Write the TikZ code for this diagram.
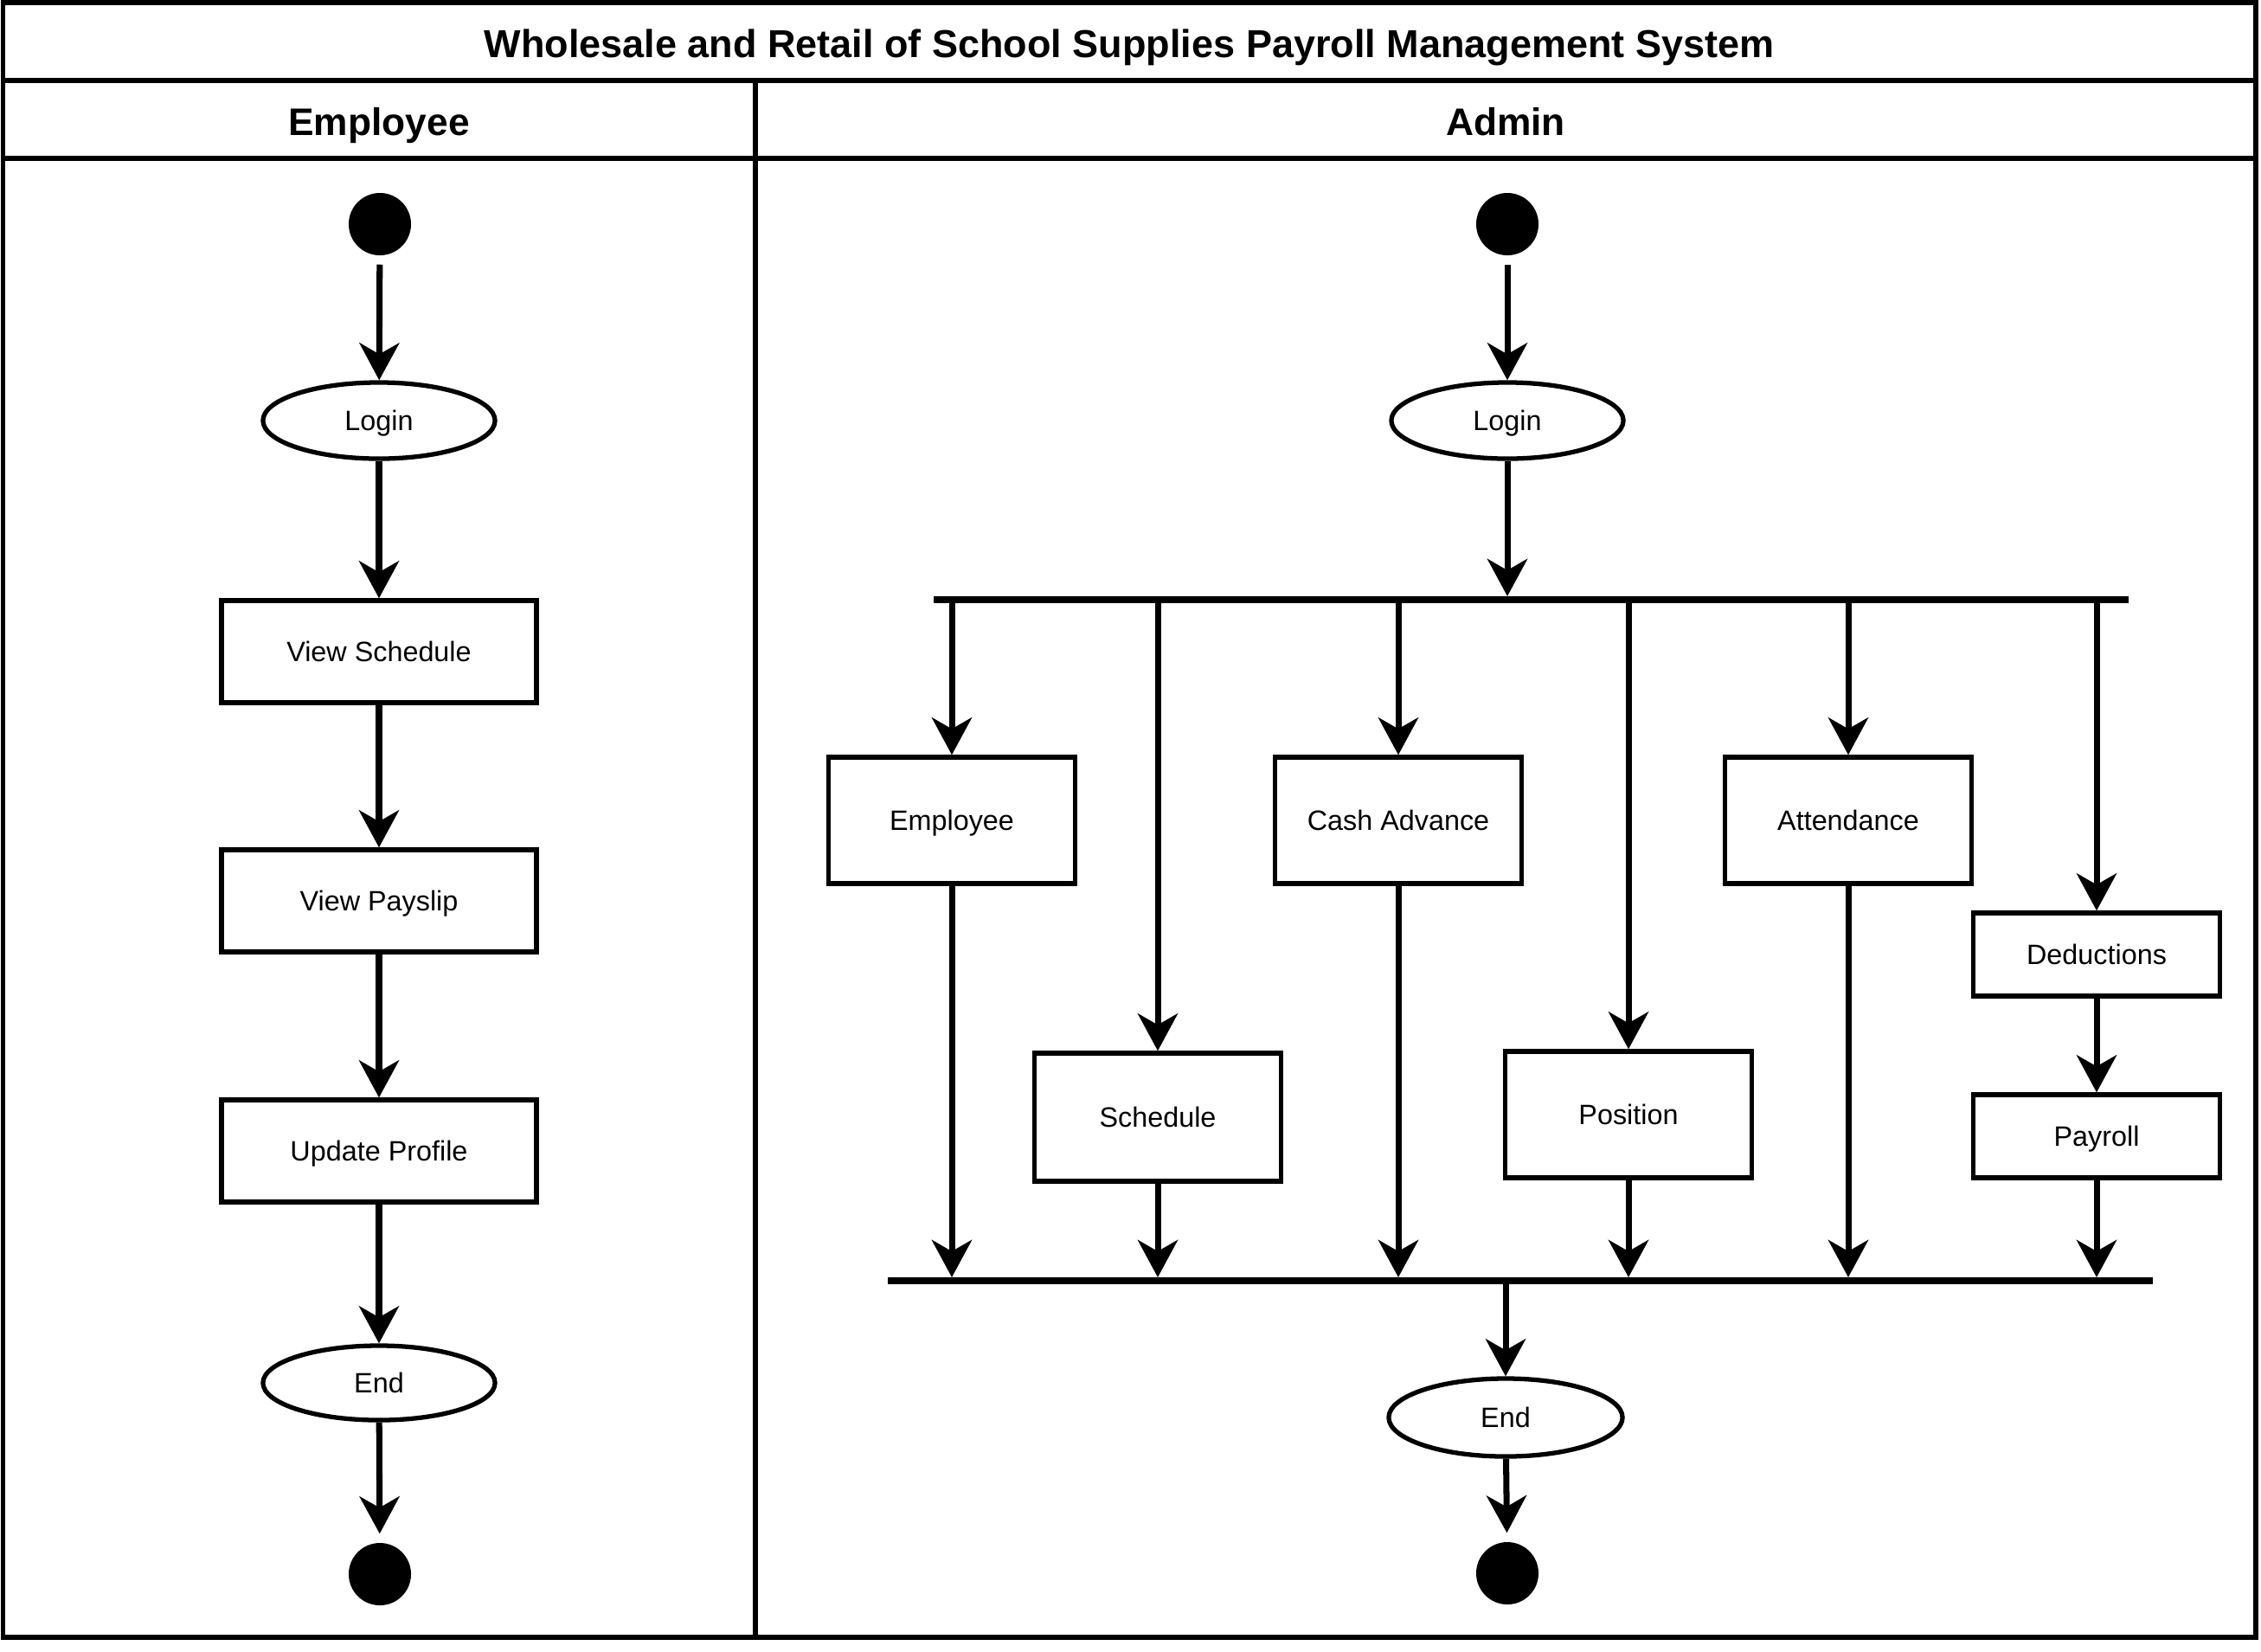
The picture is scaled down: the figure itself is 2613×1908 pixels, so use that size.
\documentclass[tikz,border=0pt]{standalone}
\usepackage{fontspec}
\setmainfont{Liberation Sans}
\usetikzlibrary{arrows.meta,shapes.geometric}
\begin{document}
\begin{tikzpicture}[x=0.01cm,y=-0.01cm,
  lane/.style={line width=1.7pt},
  act/.style={draw,line width=1.5pt,minimum width=2.85cm,minimum height=1.46cm,inner sep=0pt,text height=6.6pt,text depth=0pt,font=\fontsize{9.2}{11}\selectfont},
  uc/.style={draw,ellipse,line width=1.5pt,minimum width=2.68cm,minimum height=0.88cm,inner sep=0pt,text height=6.6pt,text depth=0pt,font=\fontsize{9.2}{11}\selectfont},
  initnode/.style={circle,fill=black,minimum size=0.72cm,inner sep=0pt},
  syncbar/.style={fill=black,minimum height=0.08cm,inner sep=0pt,outer sep=0pt},
  flow/.style={line width=2pt,-{Stealth[length=0.43cm,width=0.46cm,inset=0.13cm]}},
  hdr/.style={inner sep=0pt,text depth=0pt}
]
\useasboundingbox (0,0) rectangle (2613,1908);
\fill[white] (0,0) rectangle (2613,1908);
% frame and lanes
\draw[lane] (3.5,3) rectangle (2607,1892);
\draw[lane] (3.5,93) -- (2607,93);
\draw[lane] (3.5,183) -- (2607,183);
\draw[lane] (873,93) -- (873,1892);
\node[hdr,text height=9.1pt,font=\bfseries\fontsize{12.8}{15}\selectfont] (title) at (1305,50.5) {Wholesale and Retail of School Supplies Payroll Management System};
\node[hdr,text height=9.0pt,font=\bfseries\fontsize{12.6}{15}\selectfont] (hemp) at (438,140.5) {Employee};
\node[hdr,text height=9.0pt,font=\bfseries\fontsize{12.6}{15}\selectfont] (hadm) at (1740,140.5) {Admin};

% Employee lane
\node[initnode] (es) at (439,259) {};
\node[uc] (elogin) at (438,486) {Login};
\node[act,minimum width=3.64cm,minimum height=1.18cm] (vs) at (438,753) {View Schedule};
\node[act,minimum width=3.64cm,minimum height=1.18cm] (vp) at (438,1041) {View Payslip};
\node[act,minimum width=3.64cm,minimum height=1.18cm] (up) at (438,1330) {Update Profile};
\node[uc,minimum height=0.86cm] (eend) at (438,1598) {End};
\node[initnode] (ee) at (439,1819) {};
\draw[flow,shorten <=0.1cm] (es) -- (elogin);
\draw[flow] (elogin) -- (vs);
\draw[flow] (vs) -- (vp);
\draw[flow] (vp) -- (up);
\draw[flow] (up) -- (eend);
\draw[flow,shorten >=0.1cm] (eend) -- (ee);

% Admin lane
\node[initnode] (as) at (1742,259) {};
\node[uc] (alogin) at (1742,486) {Login};
\node[syncbar,minimum width=13.81cm] (fork) at (1769.5,693) {};
\node[act] (emp) at (1100,948) {Employee};
\node[act] (cash) at (1616,948) {Cash Advance};
\node[act] (att) at (2136,948) {Attendance};
\node[act,minimum height=1.48cm] (sched) at (1338,1291) {Schedule};
\node[act] (pos) at (1882,1288) {Position};
\node[act,minimum height=0.96cm] (ded) at (2423,1103) {Deductions};
\node[act,minimum height=0.96cm] (pay) at (2423,1313) {Payroll};
\node[syncbar,minimum width=14.62cm] (join) at (1757,1480) {};
\node[uc,minimum width=2.70cm,minimum height=0.90cm] (aend) at (1740,1638) {End};
\node[initnode] (ae) at (1742,1818) {};

\draw[flow,shorten <=0.1cm] (as) -- (alogin);
\draw[flow] (alogin) -- (alogin |- fork.north);
\draw[flow] (emp |- fork) -- (emp);
\draw[flow] (sched |- fork) -- (sched);
\draw[flow] (cash |- fork) -- (cash);
\draw[flow] (pos |- fork) -- (pos);
\draw[flow] (att |- fork) -- (att);
\draw[flow] (ded |- fork) -- (ded);
\draw[flow] (ded) -- (pay);
\draw[flow] (emp) -- (emp |- join.north);
\draw[flow] (sched) -- (sched |- join.north);
\draw[flow] (cash) -- (cash |- join.north);
\draw[flow] (pos) -- (pos |- join.north);
\draw[flow] (att) -- (att |- join.north);
\draw[flow] (pay) -- (pay |- join.north);
\draw[flow] (aend |- join.north) -- (aend);
\draw[flow,shorten >=0.1cm] (aend) -- (ae);
\end{tikzpicture}
\end{document}
